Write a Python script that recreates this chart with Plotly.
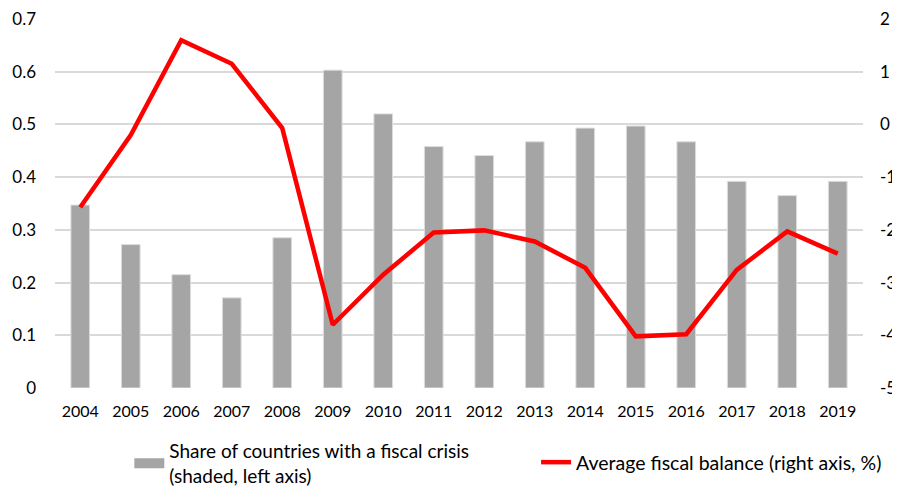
import plotly.graph_objects as go

years = ["2004", "2005", "2006", "2007", "2008", "2009", "2010", "2011",
         "2012", "2013", "2014", "2015", "2016", "2017", "2018", "2019"]
crisis_share = [0.347, 0.272, 0.215, 0.171, 0.285, 0.603, 0.520, 0.458,
                0.441, 0.467, 0.493, 0.497, 0.467, 0.392, 0.365, 0.392]
fiscal_balance = [-1.57, -0.20, 1.60, 1.15, -0.07, -3.80, -2.85, -2.05,
                  -2.01, -2.22, -2.72, -4.02, -3.98, -2.76, -2.03, -2.45]

left_ticks = [0, 0.1, 0.2, 0.3, 0.4, 0.5, 0.6, 0.7]
left_labels = ["0", "0.1", "0.2", "0.3", "0.4", "0.5", "0.6", "0.7"]
right_ticks = [-5, -4, -3, -2, -1, 0, 1, 2]
right_labels = ["-5", "-4", "-3", "-2", "-1", "0", "1", "2"]

font_family = "Lato, 'Open Sans', sans-serif"
bar_color = "#A5A5A5"

fig = go.Figure()
fig.add_trace(go.Bar(
    x=years, y=crisis_share,
    marker=dict(color=bar_color, line=dict(color="#DDDDDD", width=1)),
    showlegend=False,
))
# legend key for the bars (wide grey rectangle like the original)
fig.add_trace(go.Scatter(
    x=[None], y=[None], mode="lines",
    name="Share of countries with a fiscal crisis<br>(shaded, left axis)",
    line=dict(color=bar_color, width=12),
    legend="legend",
))
fig.add_trace(go.Scatter(
    x=years, y=fiscal_balance, yaxis="y2", mode="lines",
    name="Average fiscal balance (right axis, %)",
    line=dict(color="#FF0000", width=4.5),
    legend="legend2",
))

fig.update_layout(
    width=892, height=478,
    margin=dict(l=47, r=37, t=11, b=98, autoexpand=False),
    paper_bgcolor="white", plot_bgcolor="white",
    font=dict(family=font_family, size=17, color="#000000"),
    bargap=0.63,
    showlegend=True,
    xaxis=dict(
        type="category", showgrid=False, showline=False, zeroline=False,
        ticks="", tickfont=dict(size=16), ticklabelstandoff=12,
    ),
    yaxis=dict(
        range=[0, 0.7], tickvals=left_ticks, ticktext=left_labels,
        showgrid=True, gridcolor="#D9D9D9", gridwidth=1.5,
        zeroline=False, showline=False, ticks="", ticklabelstandoff=18,
        tickfont=dict(size=17), ticklabeloverflow="allow",
    ),
    yaxis2=dict(
        range=[-5, 2], tickvals=right_ticks, ticktext=right_labels,
        overlaying="y", side="right",
        showgrid=False, zeroline=False, showline=False, ticks="",
        ticklabelstandoff=16, tickfont=dict(size=17), ticklabeloverflow="allow",
    ),
    legend=dict(
        xref="container", yref="container",
        x=0.136, y=0.113, xanchor="left", yanchor="top",
        font=dict(size=19), bgcolor="rgba(0,0,0,0)",
    ),
    legend2=dict(
        xref="container", yref="container",
        x=0.592, y=0.09, xanchor="left", yanchor="top",
        font=dict(size=19.5), bgcolor="rgba(0,0,0,0)",
    ),
)

fig.write_html("out.html")
